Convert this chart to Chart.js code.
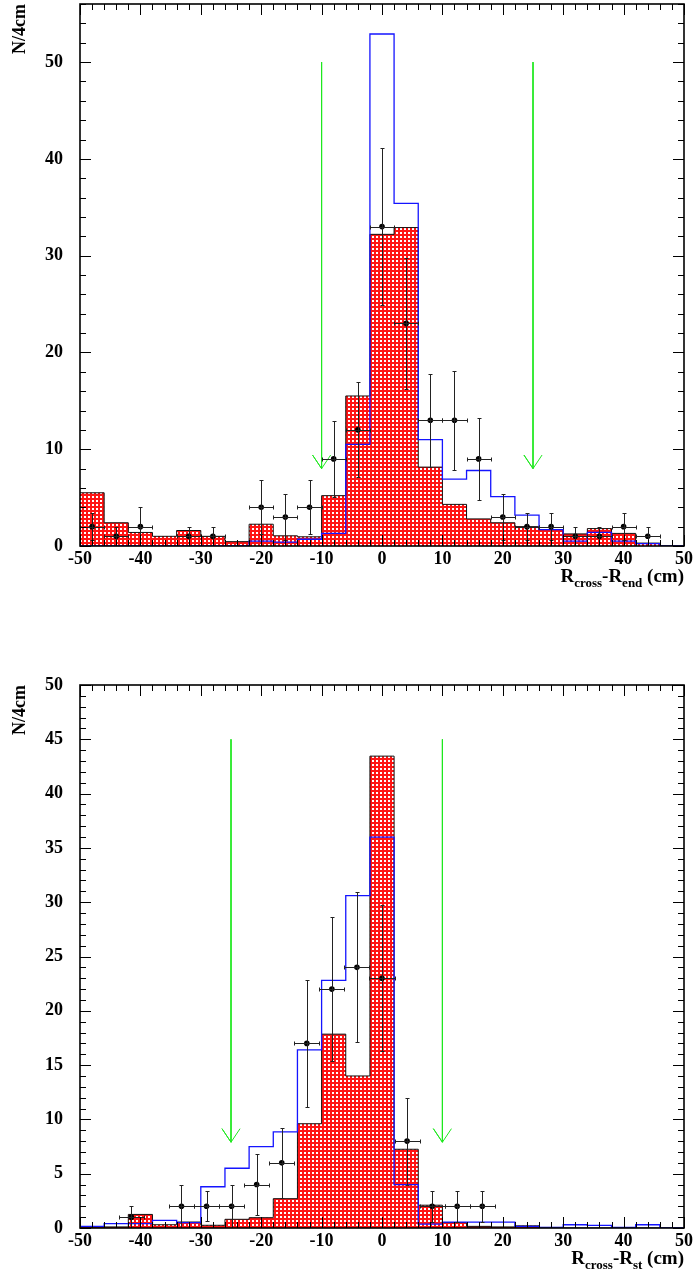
<!DOCTYPE html>
<html>
<head>
<meta charset="utf-8">
<script src="https://cdn.jsdelivr.net/npm/chart.js@4/dist/chart.umd.min.js"></script>
<style>
  html, body { margin: 0; padding: 0; background: #fff; }
  body { width: 693px; height: 1279px; position: relative; overflow: hidden; }
  .panel { position: absolute; left: 0; width: 693px; }
  #top-panel { top: 0; height: 600px; }
  #bottom-panel { top: 640px; height: 639px; }
</style>
</head>
<body>
<div class="panel" id="top-panel"><canvas id="chart-end"></canvas></div>
<div class="panel" id="bottom-panel"><canvas id="chart-st"></canvas></div>
<script>
// Histogram bins (4 cm wide), low edges, plus the last upper edge
const binLow = [-50, -46, -42, -38, -34, -30, -26, -22, -18, -14, -10, -6, -2, 2, 6, 10, 14, 18, 22, 26, 30, 34, 38, 42, 46];
const binHigh = 50;

// Upper panel: R_cross - R_end
const endHatched = [5.5, 2.4, 1.4, 1.0, 1.6, 1.0, 0.45, 2.25, 1.05, 0.95, 5.2, 15.5, 32.2, 32.9, 8.15, 4.3, 2.8, 2.4, 2.0, 1.7, 1.25, 1.8, 1.3, 0.3, 0];
const endBlue = [0, 0, 0, 0, 0, 0, 0, 0.5, 0.4, 0.7, 1.3, 10.5, 52.9, 35.4, 11.0, 6.9, 7.8, 5.1, 3.2, 1.7, 0.5, 1.4, 0.5, 0.25, 0];
const endPtX = [-48, -44, -40, -32, -28, -20, -16, -12, -8, -4, 0, 4, 8, 12, 16, 20, 24, 28, 32, 36, 40, 44];
const endPtY = [2, 1, 2, 1, 1, 4, 3, 4, 9, 12, 33, 23, 13, 13, 9, 3, 2, 2, 1, 1, 2, 1];
const endPtErr = [1.4, 1, 2, 1, 1, 2.8, 2.4, 2.8, 3.9, 4.9, 8.1, 6.8, 4.8, 5.1, 4.2, 2.4, 1.4, 1.4, 1, 1, 1.4, 1];
const endPtXErr = 2;
const endCuts = [-10, 25];

// Lower panel: R_cross - R_st
const stHatched = [0.1, 0.1, 1.25, 0.3, 0.55, 0.25, 0.8, 0.95, 2.7, 9.6, 17.85, 14.0, 43.45, 7.25, 2.1, 0.5, 0.15, 0.1, 0.2, 0.05, 0, 0, 0, 0, 0];
const stBlue = [0.15, 0.4, 0.4, 0.7, 0.5, 3.8, 5.5, 7.5, 8.85, 16.4, 22.8, 30.6, 36.0, 4.0, 0.35, 0.55, 0.55, 0.55, 0.15, 0.05, 0.3, 0.25, 0.05, 0.3, 0];
const stPtX = [-41.5, -33.2, -29.05, -24.9, -20.75, -16.6, -12.45, -8.3, -4.15, 0, 4.15, 8.3, 12.45, 16.6];
const stPtY = [1, 2, 2, 2, 4, 6, 17, 22, 24, 23, 8, 2, 2, 2];
const stPtErr = [1, 2, 1.4, 2, 2.8, 3.2, 5.85, 6.65, 6.9, 6.7, 4, 1.45, 1.45, 1.45];
const stPtXErr = 2.07;
const stCuts = [-25, 10];

const FONT = '"Liberation Serif", "Times New Roman", serif';

// red cross-hatch fill like ROOT's 3144 style (white holes on red)
function hatchPattern() {
    const c = document.createElement('canvas');
    c.width = 4; c.height = 4;
    const g = c.getContext('2d');
    g.fillStyle = 'rgb(255,20,20)';
    g.fillRect(0, 0, 4, 4);
    g.fillStyle = '#fff';
    g.fillRect(0, 0, 2, 2);
    return g.createPattern(c, 'repeat');
}

function steps(vals) {
    const pts = binLow.map((x, i) => ({ x: x, y: vals[i] }));
    pts.push({ x: binHigh, y: vals[vals.length - 1] });
    return pts;
}

function arrow(cut, from, to, dx, dy) {
    return [{ x: cut, y: from }, { x: cut, y: to }, { x: cut - dx, y: to + dy },
            { x: cut, y: to }, { x: cut + dx, y: to + dy }];
}

// error bars for the data points, drawn through the chart scales
const errorBars = {
    id: 'errorBars',
    afterDatasetsDraw(chart, args, opts) {
        const { ctx, chartArea: a, scales: { x, y } } = chart;
        ctx.save();
        ctx.beginPath();
        ctx.rect(a.left, a.top, a.width, a.height);
        ctx.clip();
        ctx.strokeStyle = '#222';
        ctx.lineWidth = 1;
        ctx.beginPath();
        opts.xs.forEach((xv, i) => {
            const px = Math.round(x.getPixelForValue(xv)) + 0.5;
            const py = Math.round(y.getPixelForValue(opts.ys[i])) + 0.5;
            const top = Math.round(y.getPixelForValue(opts.ys[i] + opts.errs[i])) + 0.5;
            const bot = Math.round(y.getPixelForValue(opts.ys[i] - opts.errs[i])) + 0.5;
            const l = Math.round(x.getPixelForValue(xv - opts.xerr)) + 0.5;
            const r = Math.round(x.getPixelForValue(xv + opts.xerr)) + 0.5;
            ctx.moveTo(px, top); ctx.lineTo(px, bot);
            ctx.moveTo(px - 2, top); ctx.lineTo(px + 2, top);
            ctx.moveTo(px - 2, bot); ctx.lineTo(px + 2, bot);
            ctx.moveTo(l, py); ctx.lineTo(r, py);
            ctx.moveTo(l, py - 2); ctx.lineTo(l, py + 2);
            ctx.moveTo(r, py - 2); ctx.lineTo(r, py + 2);
        });
        ctx.stroke();
        ctx.restore();
    }
};

// frame with inward major/minor ticks on all four sides, plus x title with subscripts
const frameTicks = {
    id: 'frameTicks',
    afterDatasetsDraw(chart, args, opts) {
        const { ctx, chartArea: a, scales: { x, y } } = chart;
        ctx.save();
        ctx.strokeStyle = '#000';
        ctx.lineWidth = 1;
        ctx.beginPath();
        for (let v = x.min; v <= x.max + 1e-6; v += opts.xMinor) {
            const px = Math.round(x.getPixelForValue(v)) + 0.5;
            const major = Math.abs(Math.round(v / opts.xMajor) * opts.xMajor - v) < 1e-6;
            const len = major ? 11 : 6;
            ctx.moveTo(px, a.bottom); ctx.lineTo(px, a.bottom - len);
            ctx.moveTo(px, a.top); ctx.lineTo(px, a.top + len);
        }
        for (let v = y.min; v <= y.max + 1e-6; v += opts.yMinor) {
            const py = Math.round(y.getPixelForValue(v)) + 0.5;
            const major = Math.abs(Math.round(v / opts.yMajor) * opts.yMajor - v) < 1e-6;
            const len = major ? 11 : 6;
            ctx.moveTo(a.left, py); ctx.lineTo(a.left + len, py);
            ctx.moveTo(a.right, py); ctx.lineTo(a.right - len, py);
        }
        ctx.stroke();
        ctx.lineWidth = 1.6;
        ctx.strokeRect(a.left, a.top, a.right - a.left, a.bottom - a.top);

        // x axis title: R_cross - R_xxx (cm)
        const parts = [
            { t: 'R', size: 19, dy: 0 },
            { t: 'cross', size: 13, dy: 5 },
            { t: '-R', size: 19, dy: 0 },
            { t: opts.sub, size: 13, dy: 5 },
            { t: ' (cm)', size: 19, dy: 0 }
        ];
        let w = 0;
        parts.forEach(p => { ctx.font = 'bold ' + p.size + 'px ' + FONT; p.w = ctx.measureText(p.t).width; w += p.w; });
        let cx = a.right - w;
        const base = a.bottom + opts.titleDy;
        ctx.fillStyle = '#000';
        ctx.textBaseline = 'alphabetic';
        ctx.textAlign = 'left';
        parts.forEach(p => {
            ctx.font = 'bold ' + p.size + 'px ' + FONT;
            ctx.fillText(p.t, cx, base + p.dy);
            cx += p.w;
        });
        ctx.restore();
    }
};

function makePanel(id, cfg) {
    const ctx = document.getElementById(id).getContext('2d');
    return new Chart(ctx, {
        type: 'line',
        data: {
            datasets: [
                {
                    label: 'data',
                    data: cfg.ptX.map((x, i) => ({ x: x, y: cfg.ptY[i] })),
                    showLine: false,
                    pointRadius: 2.8,
                    pointBackgroundColor: '#000',
                    pointBorderWidth: 0
                },
                {
                    label: 'blue',
                    data: steps(cfg.blue),
                    stepped: 'before',
                    borderColor: '#1414ff',
                    borderWidth: 1.3,
                    pointRadius: 0,
                    fill: false
                },
                ...cfg.cuts.map(c => ({
                    label: 'cut',
                    data: arrow(c, cfg.arrowFrom, cfg.arrowTo, 1.5, cfg.arrowDy),
                    borderColor: '#1fe81f',
                    borderWidth: 1,
                    pointRadius: 0,
                    fill: false
                })),
                {
                    label: 'hatched',
                    data: steps(cfg.hatched),
                    stepped: 'before',
                    borderColor: '#111',
                    borderWidth: 1,
                    pointRadius: 0,
                    fill: 'origin',
                    backgroundColor: hatchPattern()
                }
            ]
        },
        options: {
            animation: false,
            responsive: true,
            maintainAspectRatio: false,
            devicePixelRatio: 1,
            layout: { padding: { top: cfg.padTop, right: 9, left: 0, bottom: 0 } },
            plugins: {
                legend: { display: false },
                tooltip: { enabled: false },
                errorBars: { xs: cfg.ptX, ys: cfg.ptY, errs: cfg.ptErr, xerr: cfg.ptXErr },
                frameTicks: { xMinor: 2, xMajor: 10, yMinor: cfg.yMinor, yMajor: cfg.yMajor, sub: cfg.sub, titleDy: 36 }
            },
            scales: {
                x: {
                    type: 'linear',
                    min: -50,
                    max: 50,
                    grid: { display: false, drawTicks: false },
                    border: { display: false },
                    ticks: {
                        stepSize: 10,
                        autoSkip: false,
                        maxRotation: 0,
                        padding: 3,
                        color: '#000',
                        font: { family: FONT, size: 18, weight: 'bold' }
                    },
                    afterFit(scale) {
                        scale.height = cfg.xHeight;
                        scale.paddingLeft = 0;
                        scale.paddingRight = 0;
                    }
                },
                y: {
                    min: 0,
                    max: cfg.yMax,
                    grid: { display: false, drawTicks: false },
                    border: { display: false },
                    ticks: {
                        stepSize: cfg.yMajor,
                        includeBounds: false,
                        padding: 17,
                        color: '#000',
                        font: { family: FONT, size: 18, weight: 'bold' }
                    },
                    title: {
                        display: true,
                        text: 'N/4cm',
                        align: 'end',
                        color: '#000',
                        padding: { top: 10, bottom: 0 },
                        font: { family: FONT, size: 18, weight: 'bold' }
                    },
                    afterFit(scale) {
                        scale.width = 80;
                        scale.paddingTop = 0;
                        scale.paddingBottom = 0;
                    }
                }
            }
        },
        plugins: [errorBars, frameTicks]
    });
}

makePanel('chart-end', {
    hatched: endHatched, blue: endBlue,
    ptX: endPtX, ptY: endPtY, ptErr: endPtErr, ptXErr: endPtXErr,
    cuts: endCuts, arrowFrom: 50, arrowTo: 8, arrowDy: 1.4,
    yMax: 56, yMajor: 10, yMinor: 2,
    padTop: 2, xHeight: 54, sub: 'end'
});

makePanel('chart-st', {
    hatched: stHatched, blue: stBlue,
    ptX: stPtX, ptY: stPtY, ptErr: stPtErr, ptXErr: stPtXErr,
    cuts: stCuts, arrowFrom: 45, arrowTo: 7.9, arrowDy: 1.25,
    yMax: 50, yMajor: 5, yMinor: 1,
    padTop: 45, xHeight: 51, sub: 'st'
});
</script>
</body>
</html>
